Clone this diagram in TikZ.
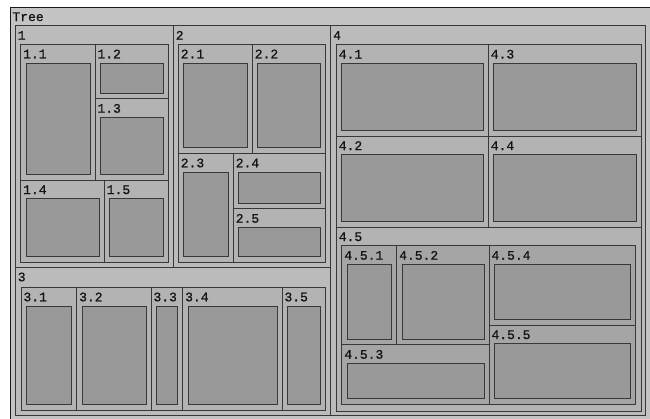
\documentclass[tikz,border=0pt]{standalone}
\usepackage{fontspec}
\newfontfamily\lblfont[FakeBold=0.9]{Liberation Mono}
\definecolor{dzero}{HTML}{C4C4C4}
\definecolor{done}{HTML}{BBBBBB}
\definecolor{dtwo}{HTML}{B3B3B3}
\definecolor{dthree}{HTML}{A5A5A5}
\definecolor{leafc}{HTML}{999999}
\definecolor{linec}{HTML}{383838}
\tikzset{
  tmline/.style={draw=linec, line width=1pt},
  tmlabel/.style={anchor=base west, inner sep=0pt, font=\lblfont\fontsize{13}{13}\selectfont, text=black!92},
}
% #1 name, #2 fill, #3 x0, #4 y0, #5 x1, #6 y1, #7 label
\newcommand\tmbox[7]{%
  \path[tmline, fill=#2] (#3,#4) rectangle (#5,#6);
  \node[tmlabel] (#1) at ({#3+2.3},{#4+14}) {#7};
}
% content frame: #1 fill, #2..#5 coords
\newcommand\tmframe[5]{\path[tmline, fill=#1] (#2,#3) rectangle (#4,#5);}
\newcommand\tmleaf[7]{%
  \tmbox{#1}{#2}{#3}{#4}{#5}{#6}{#7}
  \path[tmline, fill=leafc] ({#3+5.5},{#4+18.7}) rectangle ({#5-5},{#6-5.6});
}
\begin{document}
\begin{tikzpicture}[x=1pt,y=-1pt]
\useasboundingbox[fill=white] (0,0) rectangle (650,418);
% root
\path[draw=black!90, line width=1pt, fill=dzero] (10,7) rectangle (651,421);
\node[tmlabel] (tree) at (12.3,21) {Tree};
\tmframe{dzero}{15.3}{25.7}{645.7}{415.3}
% 1
\tmbox{n1}{done}{15.3}{25.7}{173.3}{267.3}{1}
\tmframe{done}{20.7}{44.3}{168.3}{262.3}
\tmleaf{n11}{dtwo}{20.7}{44.3}{95}{180}{1.1}
\tmleaf{n12}{dtwo}{95}{44.3}{168.3}{98.7}{1.2}
\tmleaf{n13}{dtwo}{95}{98.7}{168.3}{180}{1.3}
\tmleaf{n14}{dtwo}{20.7}{180}{104.3}{262.3}{1.4}
\tmleaf{n15}{dtwo}{104.3}{180}{168.3}{262.3}{1.5}
% 2
\tmbox{n2}{done}{173.3}{25.7}{330.7}{267.3}{2}
\tmframe{done}{178.3}{44.3}{325.7}{262.3}
\tmleaf{n21}{dtwo}{178.3}{44.3}{252.3}{153.3}{2.1}
\tmleaf{n22}{dtwo}{252.3}{44.3}{325.7}{153.3}{2.2}
\tmleaf{n23}{dtwo}{178.3}{153.3}{233.3}{262.3}{2.3}
\tmleaf{n24}{dtwo}{233.3}{153.3}{325.7}{208.7}{2.4}
\tmleaf{n25}{dtwo}{233.3}{208.7}{325.7}{262.3}{2.5}
% 3
\tmbox{n3}{done}{15.3}{267.3}{330.7}{415.3}{3}
\tmframe{done}{21}{287.3}{325.7}{410}
\tmleaf{n31}{dtwo}{21}{287.3}{76.7}{410}{3.1}
\tmleaf{n32}{dtwo}{76.7}{287.3}{151}{410}{3.2}
\tmleaf{n33}{dtwo}{151}{287.3}{182.7}{410}{3.3}
\tmleaf{n34}{dtwo}{182.7}{287.3}{282}{410}{3.4}
\tmleaf{n35}{dtwo}{282}{287.3}{325.7}{410}{3.5}
% 4
\tmbox{n4}{done}{330.7}{25.7}{645.7}{415.3}{4}
\tmframe{done}{336.3}{44.5}{641}{411}
\tmleaf{n41}{dtwo}{336.3}{44.5}{488.3}{136}{4.1}
\tmleaf{n43}{dtwo}{488.3}{44.5}{641}{136}{4.3}
\tmleaf{n42}{dtwo}{336.3}{136}{488.3}{227}{4.2}
\tmleaf{n44}{dtwo}{488.3}{136}{641}{227}{4.4}
\tmbox{n45}{dtwo}{336.3}{227}{641}{411}{4.5}
\tmframe{dtwo}{341.8}{245.7}{635.7}{404.3}
\tmleaf{n451}{dthree}{341.8}{245.7}{396.7}{344.7}{4.5.1}
\tmleaf{n452}{dthree}{396.7}{245.7}{489}{344.7}{4.5.2}
\tmleaf{n453}{dthree}{341.8}{344.7}{489}{404.3}{4.5.3}
\tmleaf{n454}{dthree}{489}{245.7}{635.7}{325}{4.5.4}
\tmleaf{n455}{dthree}{489}{325}{635.7}{404.3}{4.5.5}
\end{tikzpicture}
\end{document}
